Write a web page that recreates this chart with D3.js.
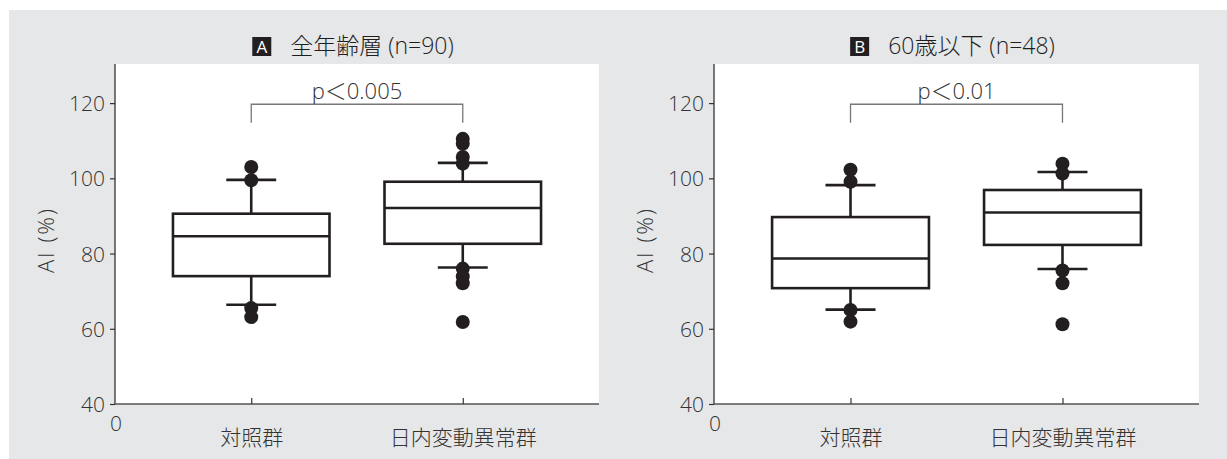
<!DOCTYPE html>
<html><head><meta charset="utf-8">
<script src="https://cdn.jsdelivr.net/npm/d3@7"></script>
<style>
html,body{margin:0;padding:0;background:#fff;}
svg text{font-family:"Open Sans","Noto Sans CJK JP",sans-serif;}
</style></head>
<body><svg id="chart" width="1227" height="459"></svg>
<script>
// ---- data ----
const categories = ["対照群", "日内変動異常群"];
const panelLetters = ["A", "B"];
const panelTitles = ["全年齢層 (n=90)", "60歳以下 (n=48)"];
const pLabels = ["p＜0.005", "p＜0.01"];
const yTicks = [40, 60, 80, 100, 120];
const yLabel = "AI (%)";
const xZeroLabel = "0";

// Panel A (全年齢層)
const whiskerLowA = [66.4, 76.3];
const q1A = [74.0, 82.6];
const medianA = [84.6, 92.1];
const q3A = [90.6, 99.1];
const whiskerHighA = [99.6, 104.1];
const outliersA = [[103.0, 99.5, 65.5, 63.1], [110.5, 109.2, 105.7, 103.9, 76.0, 73.9, 72.1, 61.8]];

// Panel B (60歳以下)
const whiskerLowB = [65.1, 75.9];
const q1B = [70.8, 82.3];
const medianB = [78.7, 90.9];
const q3B = [89.7, 96.9];
const whiskerHighB = [98.2, 101.7];
const outliersB = [[102.3, 99.1, 65.0, 61.9], [103.9, 101.3, 75.5, 72.1, 61.2]];

const bracketTop = [119.7, 119.7];
const bracketBottom = [114.8, 114.8];

// ---- layout ----
const svg = d3.select("#chart");
const ink = "#231f20";
const textCol = "#333333";

svg.append("rect").attr("x", 9).attr("y", 10).attr("width", 1227 - 9).attr("height", 459 - 10).attr("fill", "#e6e7e8");

const panels = [
  {x0: 115, x1: 599, letter: panelLetters[0], title: panelTitles[0], p: pLabels[0],
   wl: whiskerLowA, q1: q1A, med: medianA, q3: q3A, wh: whiskerHighA, out: outliersA, labelX: 46, bt: bracketTop[0], bb: bracketBottom[0]},
  {x0: 714, x1: 1199, letter: panelLetters[1], title: panelTitles[1], p: pLabels[1],
   wl: whiskerLowB, q1: q1B, med: medianB, q3: q3B, wh: whiskerHighB, out: outliersB, labelX: 645, bt: bracketTop[1], bb: bracketBottom[1]}
];

const yTop = 64, yBot = 404;

panels.forEach(P => {
  const g = svg.append("g");
  const y = d3.scaleLinear().domain([40, 130.4]).range([yBot, yTop]);
  const x = d3.scalePoint().domain(categories).range([P.x0, P.x1]).padding(0.644);
  const step = x.step();
  const bw = step * 0.74, cw = step * 0.236;

  g.append("rect").attr("x", P.x0).attr("y", yTop).attr("width", P.x1 - P.x0).attr("height", yBot - yTop).attr("fill", "#fff");

  // y axis
  const ya = g.append("g").attr("transform", `translate(${P.x0},0)`)
    .call(d3.axisLeft(y).tickValues(yTicks).tickSize(5).tickPadding(5));
  ya.select(".domain").attr("d", `M0,${yTop}V${yBot}`).attr("stroke", "#333").attr("stroke-width", 1.3);
  ya.selectAll(".tick line").attr("stroke", "#333").attr("stroke-width", 1.2);
  ya.selectAll(".tick text").attr("fill", textCol).attr("font-size", 21).attr("font-weight", 300).attr("dy", "0.36em");

  // x axis
  const xa = g.append("g").attr("transform", `translate(0,${yBot})`)
    .call(d3.axisBottom(x).tickSize(-6).tickPadding(0));
  xa.select(".domain").attr("d", `M${P.x0},0H${P.x1}`).attr("stroke", "#555").attr("stroke-width", 1.5);
  xa.selectAll(".tick line").attr("stroke", "#333").attr("stroke-width", 1.2);
  xa.selectAll(".tick text").attr("fill", textCol).attr("font-size", 21).attr("font-weight", 300)
    .attr("y", 33).attr("dy", "0.36em");

  g.append("text").attr("x", P.x0 + 1).attr("y", 423).attr("dy", "0.36em").attr("text-anchor", "middle")
    .attr("font-size", 21).attr("font-weight", 300).attr("fill", textCol).text(xZeroLabel);

  // y label
  g.append("text").attr("transform", `translate(${P.labelX},${(yTop + yBot) / 2 + 6}) rotate(-90)`)
    .attr("text-anchor", "middle").attr("dy", "0.36em").attr("font-size", 22).attr("font-weight", 300)
    .attr("letter-spacing", 2).attr("fill", textCol).text(yLabel);

  // title
  const tg = g.append("g");
  const tt = tg.append("text").attr("x", 0).attr("y", 46).attr("dy", "0.36em")
    .attr("font-size", 23).attr("font-weight", 300).attr("fill", "#1e1e1e").text(P.title);
  const tw = tt.node().getComputedTextLength();
  const total = 19 + 19 + tw;
  const cx = (P.x0 + P.x1) / 2 - 4;
  const sx = cx - total / 2;
  tg.append("rect").attr("x", sx).attr("y", 37).attr("width", 19).attr("height", 19).attr("fill", "#231f20");
  tg.append("text").attr("x", sx + 9.5).attr("y", 46.5).attr("dy", "0.36em").attr("text-anchor", "middle")
    .attr("font-size", 17).attr("font-weight", 400).attr("fill", "#fff").text(P.letter);
  tt.attr("x", sx + 38);

  // significance bracket
  const bx1 = x(categories[0]), bx2 = x(categories[1]);
  g.append("path").attr("d", `M${bx1},${y(P.bb)}V${y(P.bt)}H${bx2}V${y(P.bb)}`)
    .attr("fill", "none").attr("stroke", "#777").attr("stroke-width", 1.3);
  g.append("text").attr("x", (bx1 + bx2) / 2).attr("y", y(P.bt) - 5)
    .attr("text-anchor", "middle").attr("font-size", 22).attr("font-weight", 300).attr("fill", textCol).text(P.p);

  // boxes
  categories.forEach((c, i) => {
    const cxp = x(c);
    const bg = g.append("g").attr("stroke", ink).attr("stroke-width", 2.6).attr("fill", "none");
    bg.append("line").attr("x1", cxp).attr("x2", cxp).attr("y1", y(P.q3[i])).attr("y2", y(P.wh[i]));
    bg.append("line").attr("x1", cxp).attr("x2", cxp).attr("y1", y(P.q1[i])).attr("y2", y(P.wl[i]));
    bg.append("line").attr("x1", cxp - cw / 2).attr("x2", cxp + cw / 2).attr("y1", y(P.wh[i])).attr("y2", y(P.wh[i]));
    bg.append("line").attr("x1", cxp - cw / 2).attr("x2", cxp + cw / 2).attr("y1", y(P.wl[i])).attr("y2", y(P.wl[i]));
    bg.append("rect").attr("x", cxp - bw / 2).attr("y", y(P.q3[i])).attr("width", bw)
      .attr("height", y(P.q1[i]) - y(P.q3[i])).attr("fill", "#fff");
    bg.append("line").attr("x1", cxp - bw / 2).attr("x2", cxp + bw / 2).attr("y1", y(P.med[i])).attr("y2", y(P.med[i]));
    g.selectAll(null).data(P.out[i]).enter().append("circle")
      .attr("cx", cxp).attr("cy", d => y(d)).attr("r", 7).attr("fill", ink);
  });
});
</script></body></html>
